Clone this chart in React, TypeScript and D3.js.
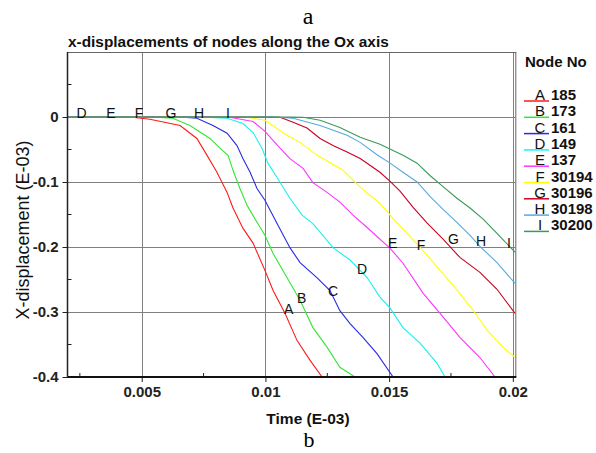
import React, { useEffect, useRef } from 'react';
import * as d3 from 'd3';

// node curves, [time, x-displacement]
const curveA = [[0.002, 0], [0.00453, 0], [0.00533, -0.0035], [0.00655, -0.013], [0.00723, -0.033], [0.00764, -0.059], [0.00804, -0.085], [0.00845, -0.116], [0.00869, -0.14], [0.00909, -0.171], [0.0095, -0.194], [0.00998, -0.236], [0.01031, -0.267], [0.01079, -0.302], [0.01128, -0.344], [0.0118, -0.374], [0.01229, -0.4]];
const curveB = [[0.002, 0], [0.00533, 0], [0.00626, -0.002], [0.00695, -0.013], [0.00776, -0.033], [0.00816, -0.048], [0.00849, -0.059], [0.00869, -0.082], [0.00897, -0.11], [0.00926, -0.136], [0.00966, -0.162], [0.00998, -0.182], [0.01031, -0.21], [0.01087, -0.247], [0.0114, -0.282], [0.01192, -0.324], [0.01249, -0.354], [0.01301, -0.385], [0.01362, -0.4]];
const curveC = [[0.002, 0], [0.00655, 0], [0.00723, -0.002], [0.00788, -0.013], [0.00845, -0.025], [0.00885, -0.044], [0.00909, -0.064], [0.00938, -0.085], [0.00966, -0.11], [0.00998, -0.128], [0.01047, -0.164], [0.01099, -0.201], [0.0114, -0.224], [0.01208, -0.247], [0.01261, -0.267], [0.01301, -0.298], [0.01342, -0.318], [0.01394, -0.339], [0.01451, -0.364], [0.01516, -0.4]];
const curveD = [[0.002, 0], [0.00736, 0], [0.00845, -0.002], [0.00909, -0.01], [0.0095, -0.024], [0.00986, -0.048], [0.0101, -0.071], [0.01047, -0.093], [0.01099, -0.125], [0.01148, -0.151], [0.01192, -0.164], [0.01273, -0.201], [0.01342, -0.22], [0.01411, -0.247], [0.01463, -0.277], [0.01504, -0.294], [0.01556, -0.324], [0.01625, -0.348], [0.01694, -0.379], [0.01726, -0.4]];
const curveE = [[0.002, 0], [0.0085, 0], [0.0095, -0.007], [0.00998, -0.022], [0.01059, -0.048], [0.01099, -0.064], [0.01152, -0.079], [0.01192, -0.101], [0.01249, -0.116], [0.01301, -0.131], [0.01354, -0.151], [0.01411, -0.17], [0.01504, -0.202], [0.01556, -0.225], [0.01637, -0.271], [0.01706, -0.302], [0.01786, -0.339], [0.01867, -0.37], [0.01928, -0.4]];
const curveF = [[0.002, 0], [0.00917, 0], [0.00998, -0.005], [0.01087, -0.028], [0.0114, -0.039], [0.01209, -0.059], [0.01314, -0.082], [0.01383, -0.108], [0.01463, -0.133], [0.01504, -0.151], [0.01572, -0.179], [0.01625, -0.2], [0.01706, -0.236], [0.01774, -0.266], [0.01839, -0.297], [0.01896, -0.328], [0.0196, -0.354], [0.02009, -0.37]];
const curveG = [[0.002, 0], [0.00986, 0], [0.01059, -0.0005], [0.01112, -0.008], [0.01168, -0.017], [0.01221, -0.033], [0.01273, -0.044], [0.0133, -0.054], [0.01383, -0.064], [0.01463, -0.085], [0.01504, -0.099], [0.01544, -0.114], [0.01597, -0.139], [0.01653, -0.163], [0.01718, -0.188], [0.01786, -0.216], [0.01867, -0.239], [0.01936, -0.265], [0.02009, -0.302]];
const curveH = [[0.002, 0], [0.01039, 0], [0.01112, -0.002], [0.01221, -0.013], [0.0133, -0.028], [0.01383, -0.039], [0.01451, -0.058], [0.01504, -0.071], [0.01556, -0.085], [0.01613, -0.1], [0.01665, -0.122], [0.01718, -0.142], [0.01774, -0.162], [0.01827, -0.182], [0.01867, -0.199], [0.01936, -0.224], [0.02009, -0.256]];
const curveI = [[0.002, 0], [0.011, 0], [0.01152, -0.0005], [0.01221, -0.005], [0.01301, -0.016], [0.01383, -0.031], [0.01463, -0.042], [0.01556, -0.059], [0.01613, -0.071], [0.01665, -0.09], [0.01718, -0.107], [0.01774, -0.125], [0.01827, -0.14], [0.0188, -0.157], [0.01936, -0.179], [0.02009, -0.208]];

const nodeNames = ['A', 'B', 'C', 'D', 'E', 'F', 'G', 'H', 'I'];
const nodeNumbers = ['185', '173', '161', '149', '137', '30194', '30196', '30198', '30200'];
const nodeColors = ['#ff1a1a', '#33e633', '#2a2ae6', '#1af0f0', '#ff33ff', '#ffff00', '#cc0022', '#55aadd', '#3a9a5a'];
const curves = [curveA, curveB, curveC, curveD, curveE, curveF, curveG, curveH, curveI];

// letters written on the curves (start of text, baseline)
const curveLabelTimes = [0.01075, 0.01128, 0.01253, 0.0137, 0.01495, 0.01612, 0.01738, 0.01851, 0.01976];
const curveLabelValues = [-0.3035, -0.2866, -0.2758, -0.242, -0.202, -0.205, -0.196, -0.199, -0.202];
// letters sitting on the zero line
const zeroLabelNames = ['D', 'E', 'F', 'G', 'H', 'I'];
const zeroLabelTimes = [0.00257, 0.00376, 0.00489, 0.00618, 0.00732, 0.00849];

const xTicks = [0.005, 0.01, 0.015, 0.02];
const xMinorTicks = [0.0025, 0.0075, 0.0125, 0.0175];
const yTicks = [0, -0.1, -0.2, -0.3, -0.4];
const yMinorTicks = [0.05, -0.05, -0.15, -0.25, -0.35];

const width = 596;
const height = 453;
const font = 'Liberation Sans, Arial, sans-serif';

function App() {
    const ref = useRef(null);

    useEffect(() => {
        const svg = d3.select(ref.current);
        svg.selectAll('*').remove();

        const left = 67.5, right = 515.3, top = 52, bottom = 377;
        const x = d3.scaleLinear().domain([0.002, 0.0201]).range([left, right]);
        const y = d3.scaleLinear().domain([-0.4, 0.1]).range([bottom, top]);

        svg.append('rect').attr('width', width).attr('height', height).attr('fill', '#fff');

        // grid
        svg.append('g').selectAll('line').data(xTicks).enter().append('line')
            .attr('x1', d => Math.round(x(d)) + 0.5).attr('x2', d => Math.round(x(d)) + 0.5)
            .attr('y1', top).attr('y2', bottom)
            .attr('stroke', '#808080').attr('stroke-width', 1);
        svg.append('g').selectAll('line').data(yTicks.slice(0, 4)).enter().append('line')
            .attr('x1', left).attr('x2', right)
            .attr('y1', d => Math.round(y(d)) + 0.5).attr('y2', d => Math.round(y(d)) + 0.5)
            .attr('stroke', '#808080').attr('stroke-width', 1);

        // frame
        svg.append('line').attr('x1', left).attr('x2', right + 1).attr('y1', top + 0.5).attr('y2', top + 0.5)
            .attr('stroke', '#666');
        svg.append('line').attr('x1', right + 0.5).attr('x2', right + 0.5).attr('y1', top).attr('y2', bottom)
            .attr('stroke', '#666');

        // curves
        svg.append('clipPath').attr('id', 'plot-clip').append('rect')
            .attr('x', left).attr('y', top).attr('width', right - left).attr('height', bottom - top);
        const line = d3.line().x(d => x(d[0])).y(d => y(d[1]));
        svg.append('g').attr('clip-path', 'url(#plot-clip)')
            .selectAll('path').data(curves).enter().append('path')
            .attr('d', line)
            .attr('fill', 'none')
            .attr('stroke', (_, i) => nodeColors[i])
            .attr('stroke-width', 1.1);

        // axes
        const xAxis = d3.axisBottom(x).tickValues(xTicks).tickSize(5).tickPadding(4)
            .tickFormat(d => String(d));
        const gx = svg.append('g').attr('transform', `translate(0,${bottom})`).call(xAxis);
        gx.select('.domain').remove();
        gx.selectAll('line').attr('stroke', '#222');
        gx.selectAll('text').attr('font-family', font).attr('font-size', 15).attr('font-weight', 'bold').attr('fill', '#222');

        const yAxis = d3.axisLeft(y).tickValues(yTicks).tickSize(5).tickPadding(4)
            .tickFormat(d => (d === 0 ? '0' : String(d)));
        const gy = svg.append('g').attr('transform', `translate(${left},0)`).call(yAxis);
        gy.select('.domain').remove();
        gy.selectAll('line').attr('stroke', '#222');
        gy.selectAll('text').attr('font-family', font).attr('font-size', 15).attr('font-weight', 'bold').attr('fill', '#222');

        svg.append('g').selectAll('line').data(xMinorTicks).enter().append('line')
            .attr('x1', d => x(d)).attr('x2', d => x(d)).attr('y1', bottom).attr('y2', bottom - 4)
            .attr('stroke', '#222');
        svg.append('g').selectAll('line').data(yMinorTicks).enter().append('line')
            .attr('x1', left).attr('x2', left + 4).attr('y1', d => y(d)).attr('y2', d => y(d))
            .attr('stroke', '#222');

        svg.append('line').attr('x1', left).attr('x2', right + 1).attr('y1', bottom).attr('y2', bottom)
            .attr('stroke', '#111').attr('stroke-width', 2);
        svg.append('line').attr('x1', left).attr('x2', left).attr('y1', top).attr('y2', bottom + 1)
            .attr('stroke', '#222').attr('stroke-width', 1.5);

        // letters on curves
        svg.append('g').selectAll('text').data(curveLabelTimes).enter().append('text')
            .attr('x', d => x(d)).attr('y', (_, i) => y(curveLabelValues[i]))
            .attr('font-family', font).attr('font-size', 14).attr('fill', '#111')
            .text((_, i) => nodeNames[i]);
        svg.append('g').selectAll('text').data(zeroLabelTimes).enter().append('text')
            .attr('x', d => x(d)).attr('y', y(0) + 0.5)
            .attr('text-anchor', 'middle')
            .attr('font-family', font).attr('font-size', 14).attr('fill', '#111')
            .text((_, i) => zeroLabelNames[i]);

        // titles
        svg.append('text').attr('x', 68).attr('y', 47)
            .attr('font-family', font).attr('font-size', 15.4).attr('font-weight', 'bold').attr('fill', '#111')
            .text('x-displacements of nodes along the Ox axis');
        svg.append('text').attr('x', 308).attr('y', 424).attr('text-anchor', 'middle')
            .attr('font-family', font).attr('font-size', 15.5).attr('font-weight', 'bold').attr('fill', '#111')
            .text('Time (E-03)');
        svg.append('text').attr('transform', 'translate(29,230) rotate(-90)').attr('text-anchor', 'middle')
            .attr('font-family', font).attr('font-size', 18).attr('fill', '#111')
            .text('X-displacement (E-03)');
        svg.append('text').attr('x', 308).attr('y', 24).attr('text-anchor', 'middle')
            .attr('font-family', 'Liberation Serif, Times New Roman, serif').attr('font-size', 24).attr('fill', '#000')
            .text('a');
        svg.append('text').attr('x', 309).attr('y', 447).attr('text-anchor', 'middle')
            .attr('font-family', 'Liberation Serif, Times New Roman, serif').attr('font-size', 22).attr('fill', '#000')
            .text('b');

        // legend
        svg.append('text').attr('x', 525).attr('y', 67)
            .attr('font-family', font).attr('font-size', 15).attr('font-weight', 'bold').attr('fill', '#111')
            .text('Node No');
        const rows = svg.append('g').selectAll('g').data(nodeNames).enter().append('g')
            .attr('transform', (_, i) => `translate(0,${100.5 + i * 16.3})`);
        rows.append('line').attr('x1', 524).attr('x2', 549).attr('y1', 0.5).attr('y2', 0.5)
            .attr('stroke', (_, i) => nodeColors[i]).attr('stroke-width', 1.5);
        rows.append('text').attr('x', 540).attr('y', -0.5).attr('text-anchor', 'middle')
            .attr('font-family', font).attr('font-size', 15).attr('fill', '#111')
            .text(d => d);
        rows.append('text').attr('x', 551).attr('y', -0.5)
            .attr('font-family', font).attr('font-size', 15).attr('font-weight', 'bold').attr('fill', '#111')
            .text((_, i) => nodeNumbers[i]);
    });

    return <svg ref={ref} width={width} height={height} style={{ position: 'absolute', left: 0, top: 0 }} />;
}

export default App;
